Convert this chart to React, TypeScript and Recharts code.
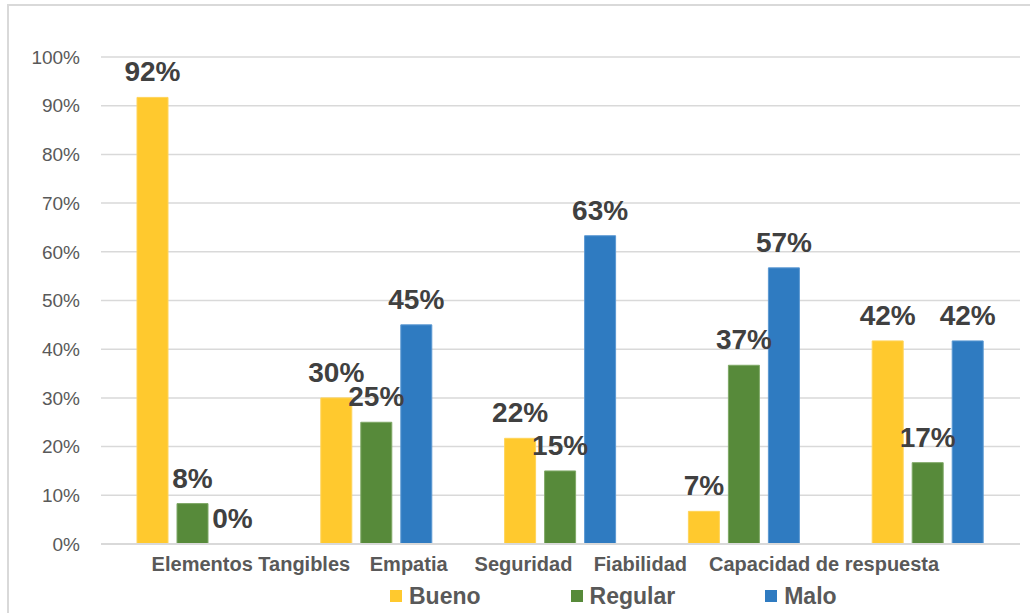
import React from 'react';
import {
  BarChart,
  Bar,
  XAxis,
  YAxis,
  CartesianGrid,
  Legend,
  LabelList
} from 'recharts';

const categories = ['Elementos Tangibles', 'Empatia', 'Seguridad', 'Fiabilidad', 'Capacidad de respuesta'];
const bueno = [91.7, 30, 21.7, 6.7, 41.7];
const regular = [8.3, 25, 15, 36.7, 16.7];
const malo = [0, 45, 63.3, 56.7, 41.7];
const yTicks = [0, 10, 20, 30, 40, 50, 60, 70, 80, 90, 100];

const series = [
  { key: 'bueno', name: 'Bueno', color: '#FFC92E', stroke: '#FFD45A' },
  { key: 'regular', name: 'Regular', color: '#578A3A', stroke: '#7FA866' },
  { key: 'malo', name: 'Malo', color: '#2F7BC1', stroke: '#5B98D2' },
];

const data = categories.map((name, i) => ({
  name,
  bueno: bueno[i],
  regular: regular[i],
  malo: malo[i],
}));

// the category labels in the source sit as one run of text, so each one gets nudged
const tickShift = [58, 32, -37, -104, -104];

const FONT = '"Liberation Sans", Arial, sans-serif';

const CategoryTick = (props: any) => {
  const { x, y, payload, index } = props;
  return (
    <text
      x={x + (tickShift[index] || 0)}
      y={y}
      dy="0.71em"
      textAnchor="middle"
      fill="#595959"
      fontSize={20}
      fontWeight="bold"
      fontFamily={FONT}
    >
      {payload.value}
    </text>
  );
};

const ValueLabel = (props: any) => {
  const { x, y, width, value } = props;
  if (value == null || x == null) return null;
  return (
    <text
      x={Number(x) + Number(width) / 2}
      y={Number(y) - 16}
      textAnchor="middle"
      fill="#404040"
      fontSize={28}
      fontWeight="bold"
      fontFamily={FONT}
    >
      {`${Math.round(Number(value))}%`}
    </text>
  );
};

const LegendContent = () => (
  <div style={{ display: 'flex', alignItems: 'center', height: 28, paddingLeft: 381, fontFamily: FONT }}>
    {series.map((s) => (
      <div key={s.key} style={{ display: 'flex', alignItems: 'center', marginRight: 90 }}>
        <span style={{ width: 12, height: 12, background: s.color, display: 'inline-block', marginRight: 7 }} />
        <span style={{ fontSize: 23, fontWeight: 'bold', color: '#595959' }}>{s.name}</span>
      </div>
    ))}
  </div>
);

const App: React.FC = () => {
  return (
    <div
      style={{
        position: 'absolute',
        left: 7,
        top: 4,
        width: 1023,
        height: 609,
        borderTop: '2px solid #D9D9D9',
        borderLeft: '2px solid #D9D9D9',
        background: '#fff',
        overflow: 'hidden',
        boxSizing: 'border-box',
      }}
    >
      <BarChart
        width={1021}
        height={607}
        data={data}
        margin={{ top: 51, right: 10, left: 0, bottom: 3 }}
        barSize={31}
        barGap={9}
      >
        <CartesianGrid vertical={false} stroke="#D9D9D9" strokeWidth={1.5} />
        <XAxis
          dataKey="name"
          height={38}
          tickLine={false}
          tickSize={0}
          tickMargin={13}
          axisLine={{ stroke: '#D9D9D9', strokeWidth: 2 }}
          tick={<CategoryTick />}
          interval={0}
        />
        <YAxis
          width={92}
          domain={[0, 100]}
          ticks={yTicks}
          tickFormatter={(v: number) => `${v}%`}
          axisLine={false}
          tickLine={false}
          tickSize={0}
          tickMargin={21}
          tick={{ fill: '#595959', fontSize: 19, fontFamily: FONT }}
        />
        <Legend
          verticalAlign="bottom"
          content={<LegendContent />}
          wrapperStyle={{ left: 0, width: 1021, bottom: 3 }}
        />
        {series.map((s) => (
          <Bar
            key={s.key}
            dataKey={s.key}
            name={s.name}
            fill={s.color}
            stroke={s.stroke}
            strokeWidth={1}
            minPointSize={0.01}
            isAnimationActive={false}
          >
            <LabelList dataKey={s.key} content={<ValueLabel />} />
          </Bar>
        ))}
      </BarChart>
    </div>
  );
};

export default App;
